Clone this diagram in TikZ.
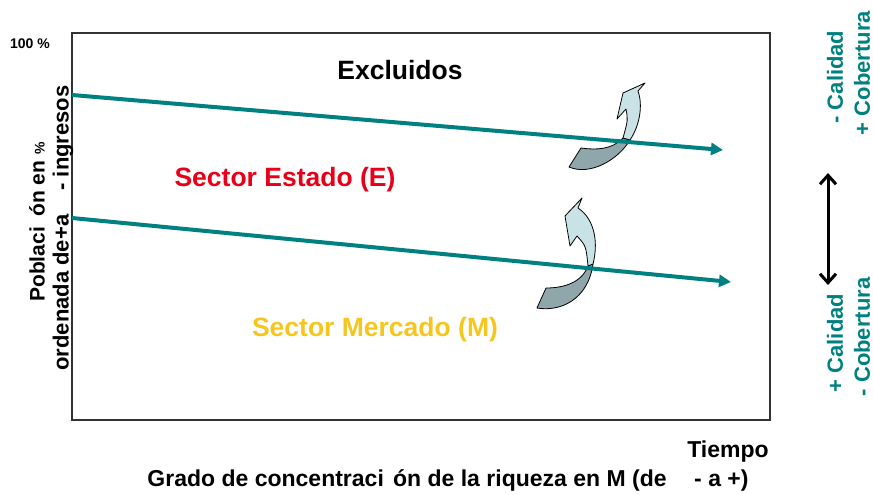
\documentclass[tikz,border=0pt]{standalone}
\usepackage{fontspec}
\setmainfont{Liberation Sans}
\usetikzlibrary{arrows.meta}
\definecolor{tealc}{RGB}{0,128,128}
\definecolor{redc}{RGB}{232,0,24}
\definecolor{yellc}{RGB}{246,198,28}
\definecolor{lightc}{RGB}{200,226,230}
\definecolor{darkc}{RGB}{143,166,170}
\definecolor{framec}{RGB}{50,50,50}
\begin{document}
\begin{tikzpicture}[x=1pt,y=-1pt,
  lbl/.style={font=\bfseries\fontsize{#1}{#1}\selectfont, inner sep=0pt},
  trend/.style={draw=tealc, line width=4pt, -{Triangle[length=12pt,width=12pt]}},
  ribbonlight/.style={fill=lightc, draw=black, line width=0.8pt, line join=round},
  ribbondark/.style={fill=darkc, draw=black, line width=0.8pt, line join=round},
  sidetxt/.style={lbl=22, text=tealc, rotate=90}]
\useasboundingbox (0,0) rectangle (873,495);
% frame
\draw[framec, line width=1.6pt] (72,33) rectangle (770,420);
% curved arrows (upper)
\path[ribbondark] (623,138) .. controls (612,150) and (595,150) .. (581,148) -- (569,167) .. controls (590,176) and (618,160) .. (630,140) -- cycle;
\path[ribbonlight] (645,83) -- (623,93) -- (617,119) -- (626,109) .. controls (628,120) .. (623,138) -- (630,140) .. controls (640,125) and (643,105) .. (638,91) -- cycle;
% curved arrows (lower)
\path[ribbondark] (588,266) .. controls (582,282) and (565,288) .. (546,288) -- (537,308) .. controls (560,312) and (588,300) .. (593,264) -- cycle;
\path[ribbonlight] (582,198) -- (565,216) -- (570,246) -- (577,236) .. controls (586,246) .. (588,266) -- (593,264) .. controls (598,245) and (596,220) .. (578,208) -- cycle;
% trend lines
\coordinate (l1s) at (72,95);
\coordinate (l1e) at (723,150);
\coordinate (l2s) at (72,218);
\coordinate (l2e) at (731,282);
\draw[trend] (l1s) -- (l1e);
\draw[trend] (l2s) -- (l2e);
% labels
\node[lbl=14] (pct) at (30,44) {100 \%};
\node[lbl=26.5] (excl) at (400,70) {Excluidos};
\node[lbl=26.5, text=redc] (estado) at (285,180) {Sector Estado (E)};
\node[lbl=26.5, text=yellc] (mercado) at (375,330) {Sector Mercado (M)};
\node[lbl=21, rotate=90] (ylab1) at (37,222) {Poblaci\hspace{0.5em}ón en {\fontsize{14}{14}\selectfont\%}};
\node[lbl=22, rotate=90] (ylab2) at (63,228) {ordenada de+a\hspace{1.1em}- ingresos};
\node[lbl=23] (tiempo) at (728,452) {Tiempo};
\node[lbl=23] (grado) at (448,480) {Grado de concentraci\hspace{0.4em}ón de la riqueza en M (de\hspace{1.2em}- a +)};
% right side
\node[sidetxt] (calm) at (835,77) {- Calidad};
\node[sidetxt] (cobp) at (862,73) {+ Cobertura};
\node[sidetxt] (calp) at (835,343) {+ Calidad};
\node[sidetxt] (cobm) at (862,337) {- Cobertura};
\coordinate (dtop) at (828,173);
\coordinate (dbot) at (828,285);
\draw[line width=3pt, {Straight Barb[length=9pt,width=16pt]}-{Straight Barb[length=9pt,width=16pt]}] (dtop) -- (dbot);
\end{tikzpicture}
\end{document}
